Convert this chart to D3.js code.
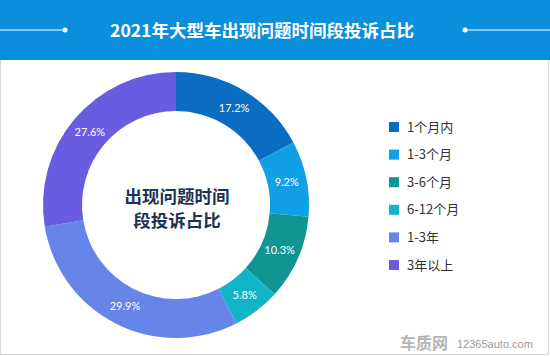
<!DOCTYPE html>
<html><head><meta charset="utf-8">
<script src="https://cdn.jsdelivr.net/npm/d3@7"></script>
<style>body{margin:0;background:#fff;}svg{display:block;font-family:"Microsoft YaHei","Noto Sans CJK SC",sans-serif;}</style>
</head><body>
<svg id="c" width="550" height="356"></svg>
<script>
const title = "2021年大型车出现问题时间段投诉占比";
const categories = ["1个月内","1-3个月","3-6个月","6-12个月","1-3年","3年以上"];
const values = [17.2, 9.2, 10.3, 5.8, 29.9, 27.6];
const colors = ["#0b6dc1","#119fe6","#0f9592","#12b4c8","#6685e9","#6a5ce1"];
const centerLines = ["出现问题时间","段投诉占比"];

const svg = d3.select("#c");
// border
svg.append("rect").attr("x",0.5).attr("y",0.5).attr("width",548).attr("height",354).attr("fill","#fff").attr("stroke","#d6d6d6");
// header
svg.append("rect").attr("x",0).attr("y",0).attr("width",550).attr("height",60).attr("fill","#0a8fdc");
svg.append("line").attr("x1",0).attr("x2",65).attr("y1",30).attr("y2",30).attr("stroke","#fff").attr("stroke-width",1);
svg.append("circle").attr("cx",65).attr("cy",30).attr("r",2.5).attr("fill","#fff");
svg.append("line").attr("x1",465).attr("x2",550).attr("y1",30).attr("y2",30).attr("stroke","#fff").attr("stroke-width",1);
svg.append("circle").attr("cx",465).attr("cy",30).attr("r",2.5).attr("fill","#fff");
svg.append("text").attr("x",262).attr("y",37).attr("text-anchor","middle").attr("fill","#fff")
  .attr("font-size",17.5).attr("font-weight","bold").text(title);

const cx=176, cy=205, rOuter=133, rInner=94;
const pie = d3.pie().sort(null).value(d=>d);
const arc = d3.arc().innerRadius(rInner).outerRadius(rOuter);
const labelArc = d3.arc().innerRadius(113).outerRadius(113);
const g = svg.append("g").attr("transform",`translate(${cx},${cy})`);
const arcs = pie(values);
g.selectAll("path").data(arcs).join("path").attr("d",arc).attr("fill",(d,i)=>colors[i]);
g.selectAll("text.lbl").data(arcs).join("text").attr("class","lbl")
  .attr("transform",d=>`translate(${labelArc.centroid(d)})`)
  .attr("text-anchor","middle").attr("dy","0.35em").attr("font-size",11).attr("fill","#fff")
  .attr("font-family","Lato, 'Noto Sans', sans-serif")
  .text(d=>d.data.toFixed(1)+"%");
g.selectAll("text.ctr").data(centerLines).join("text").attr("class","ctr")
  .attr("x",1).attr("y",(d,i)=>-2+i*24).attr("text-anchor","middle")
  .attr("font-size",17.5).attr("font-weight","bold").attr("fill","#1d3354").text(d=>d);

// legend
const y = d3.scalePoint().domain(categories).range([127,265]);
const lg = svg.append("g");
categories.forEach((c,i)=>{
  lg.append("rect").attr("x",389).attr("y",y(c)-5).attr("width",10).attr("height",10).attr("fill",colors[i]);
  lg.append("text").attr("x",407).attr("y",y(c)).attr("dy","0.36em").attr("font-size",13).attr("fill","#333").text(c);
});

// watermark
svg.append("text").attr("x",400).attr("y",349).attr("font-size",16).attr("font-weight","bold").attr("fill","#b5b5b5").text("车质网");
svg.append("text").attr("x",457).attr("y",348).attr("font-size",11).attr("fill","#9a9a9a").attr("font-family","Arial, 'Liberation Sans', sans-serif").text("12365auto.com");
</script>
</body></html>
